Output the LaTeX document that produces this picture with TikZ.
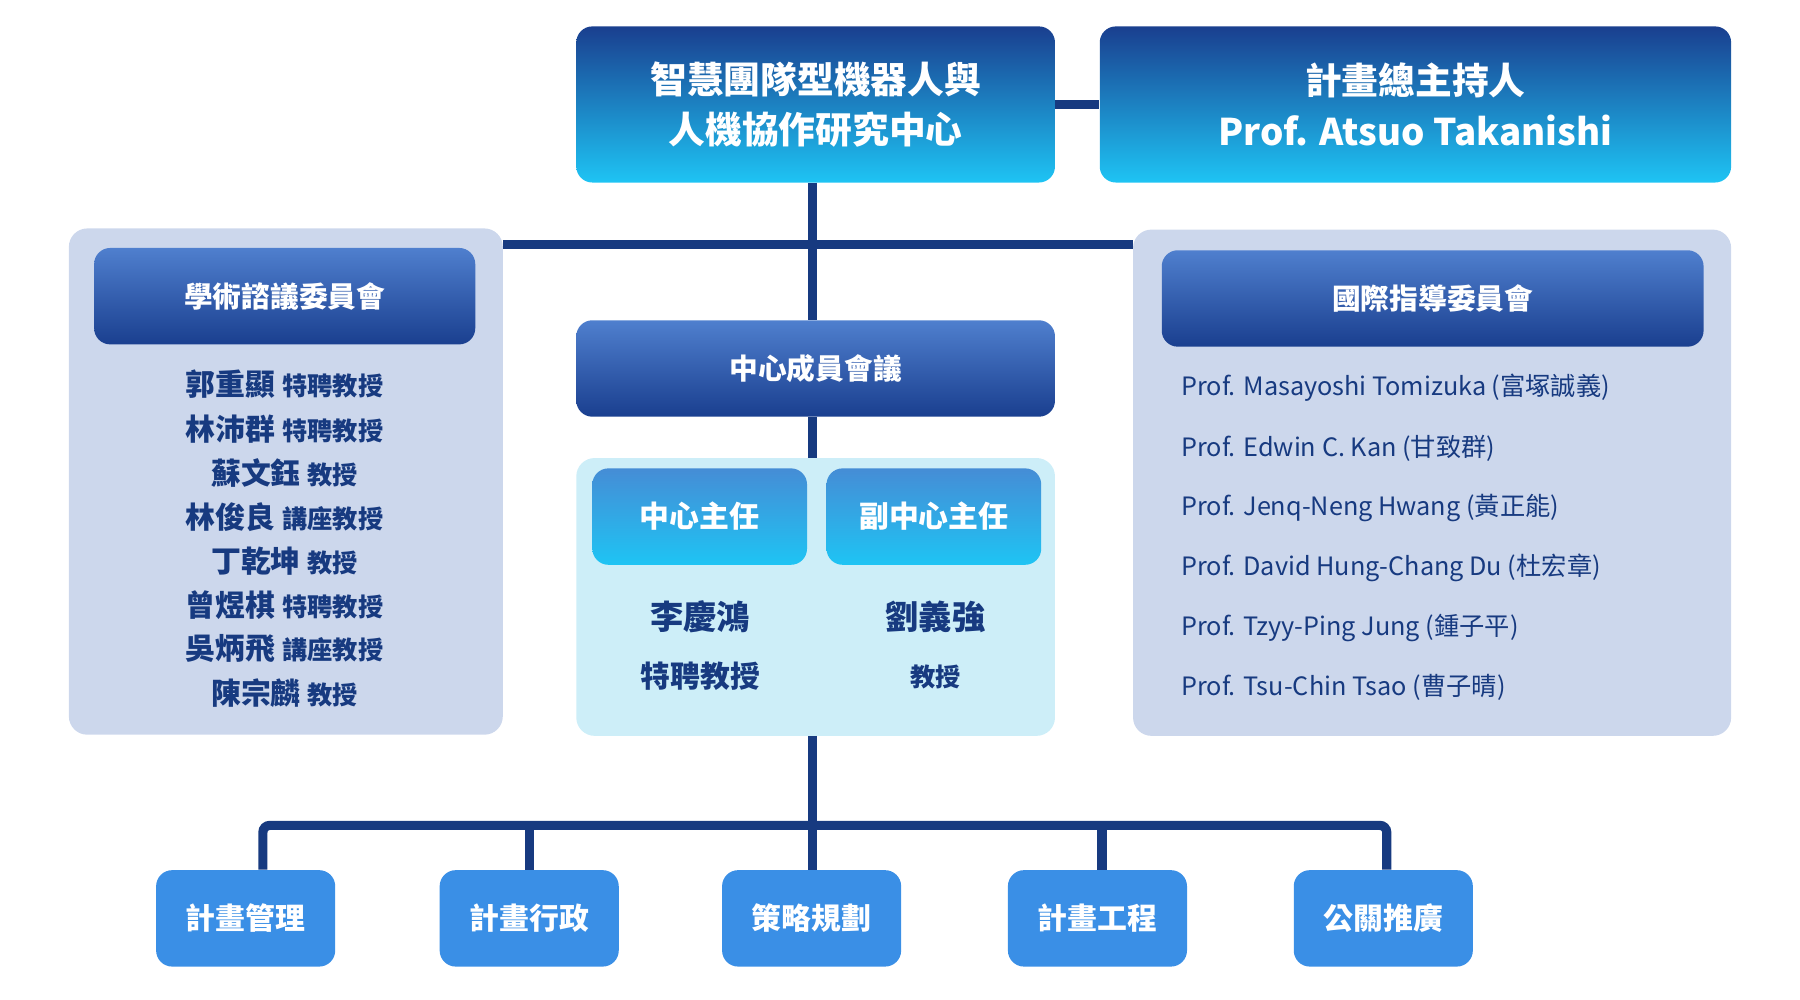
\documentclass[tikz,border=0pt]{standalone}
\usepackage{fontspec}
\setmainfont{Noto Sans CJK TC}
\usetikzlibrary{positioning}
\definecolor{navy}{HTML}{173A80}
\definecolor{deep}{HTML}{1A3F8F}
\definecolor{cyanb}{HTML}{1EC4F4}
\definecolor{midb}{HTML}{4F7FCE}
\definecolor{panel}{HTML}{CCD7EC}
\definecolor{panelc}{HTML}{CDEEF8}
\definecolor{unit}{HTML}{3A8FE6}
\tikzset{
  line/.style={draw=navy, line width=4pt},
  titlebox/.style={rounded corners=7pt, top color=deep, bottom color=cyanb, text=white, font=\bfseries\fontsize{16}{22}\selectfont, align=center, inner sep=0pt},
  headbox/.style={rounded corners=7pt, top color=midb, bottom color=deep, text=white, font=\bfseries\fontsize{12.5}{15}\selectfont, inner sep=0pt},
  rolebox/.style={rounded corners=7pt, top color=midb!80!cyanb, bottom color=cyanb, text=white, font=\bfseries\fontsize{13}{15}\selectfont, inner sep=0pt, minimum width=93.5pt, minimum height=42pt},
  unitbox/.style={rounded corners=7pt, fill=unit, text=white, font=\bfseries\fontsize{13}{15}\selectfont, inner sep=0pt, minimum width=78pt, minimum height=42pt},
  pane/.style={rounded corners=8pt, fill=panel},
  member/.style={text=navy, font=\bfseries\fontsize{13}{15}\selectfont},
  intl/.style={text=navy, font=\fontsize{11}{13}\selectfont, anchor=west}
}
\begin{document}
\begin{tikzpicture}[x=0.5pt,y=-0.5pt]
\useasboundingbox (0,0) rectangle (1568,871);

% panels
\fill[pane] (60,199) rectangle (438,640);
\fill[pane] (987,200) rectangle (1508,641);
\fill[rounded corners=8pt, fill=panelc] (502,399) rectangle (919,641);

% top row
\node[titlebox, minimum width=208.5pt, minimum height=68pt] (center) at (710.5,91) {智慧團隊型機器人與\\人機協作研究中心};
\node[titlebox, minimum width=275pt, minimum height=68pt] (host) at (1233,91) {計畫總主持人\\Prof. Atsuo Takanishi};
\draw[line] (center.east) -- (host.west);

% council headers
\node[headbox, minimum width=166pt, minimum height=42pt] (acad) at (248,258) {學術諮議委員會};
\node[headbox, minimum width=236pt, minimum height=42pt] (board) at (1248,260) {國際指導委員會};
\node[headbox, minimum width=208.5pt, minimum height=42pt] (meet) at (710.5,321) {中心成員會議};

\coordinate (hubL) at (438,213);
\coordinate (hubR) at (987,213);
\coordinate (hub) at (708,213);
\draw[line] (hubL) -- (hubR);
\draw[line] (center.south -| hub) -- (meet.north -| hub);

% academic members
\foreach \n/\t [count=\i] in {郭重顯/特聘教授, 林沛群/特聘教授, 蘇文鈺/教授, 林俊良/講座教授, 丁乾坤/教授, 曾煜棋/特聘教授, 吳炳飛/講座教授, 陳宗麟/教授}
  \node[member] (acad\i) at (248,{335+38.4*(\i-1)}) {\n\ {\fontsize{11}{13}\selectfont\t}};

% international members
\foreach \n [count=\i] in {Prof. Masayoshi Tomizuka (富塚誠義), Prof. Edwin C. Kan (甘致群), Prof. Jenq-Neng Hwang (黃正能), Prof. David Hung-Chang Du (杜宏章), Prof. Tzyy-Ping Jung (鍾子平), Prof. Tsu-Chin Tsao (曹子晴)}
  \node[intl] (intl\i) at (1022,{338+52.2*(\i-1)}) {\n};

% directors
\coordinate (dirtop) at (708,399);
\draw[line] (meet.south -| hub) -- (dirtop);
\node[rolebox] (dir) at (609.5,450) {中心主任};
\node[rolebox] (vdir) at (813.5,450) {副中心主任};
\node[member, font=\bfseries\fontsize{14.5}{16}\selectfont] (dirname) at (610,537) {李慶鴻};
\node[member] (dirtitle) at (610,589) {特聘教授};
\node[member, font=\bfseries\fontsize{14.5}{16}\selectfont] (vdirname) at (815,537) {劉義強};
\node[member, font=\bfseries\fontsize{11}{13}\selectfont] (vdirtitle) at (815,590) {教授};

% units
\coordinate (dirbot) at (708,641);
\coordinate (bus) at (708,719);
\draw[line] (dirbot) -- (bus);
\foreach \t/\x [count=\i] in {計畫管理/214, 計畫行政/461, 策略規劃/707, 計畫工程/956, 公關推廣/1205}
  \node[unitbox] (unit\i) at (\x,800) {\t};
\draw[line, rounded corners=3pt] ([xshift=7.5pt]unit1.north) -- ([xshift=7.5pt]unit1.north |- bus) -- ([xshift=1.5pt]unit5.north |- bus) -- ([xshift=1.5pt]unit5.north);
\draw[line] (unit2.north) -- (unit2.north |- bus);
\draw[line] (bus) -- (unit3.north -| bus);
\draw[line] ([xshift=2pt]unit4.north) -- ([xshift=2pt]unit4.north |- bus);
\end{tikzpicture}
\end{document}
